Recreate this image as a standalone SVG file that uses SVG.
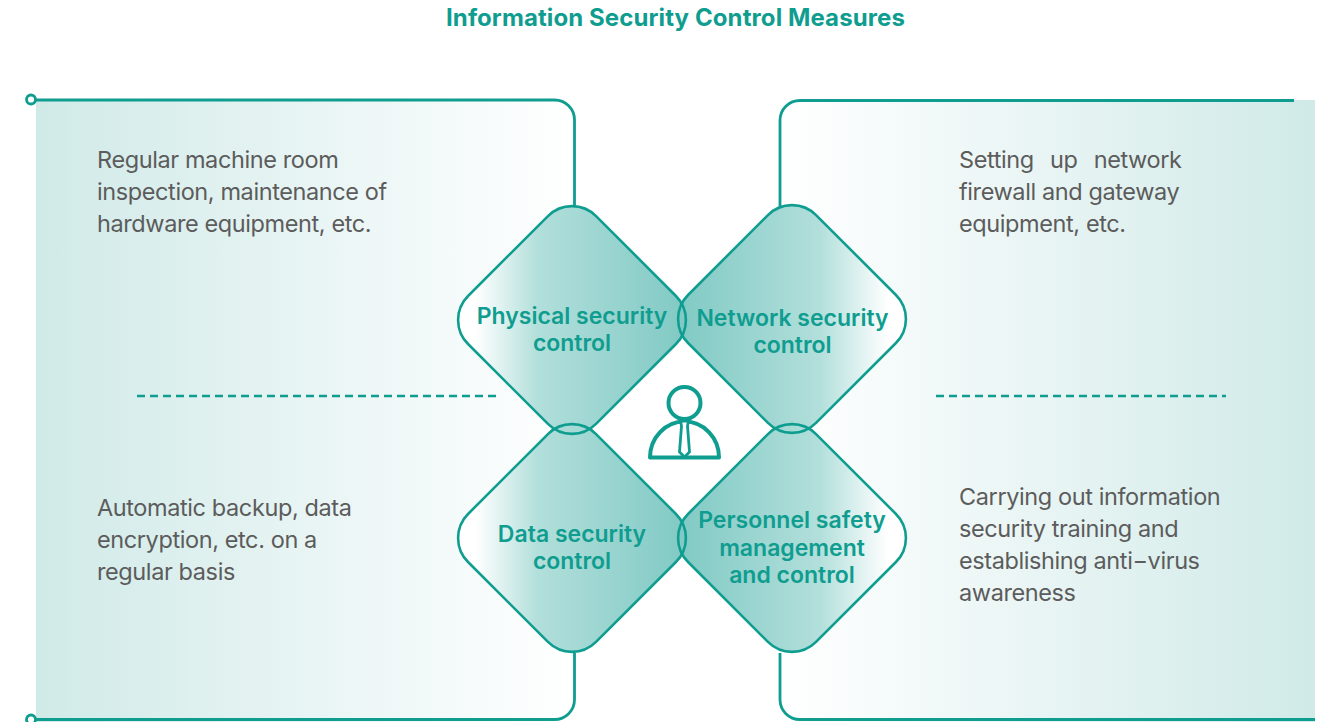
<svg xmlns="http://www.w3.org/2000/svg" width="1329" height="722" viewBox="0 0 1329 722">
<style>
.ln{fill:none;stroke:#0f9d90;stroke-width:2.800}
.dash{fill:none;stroke:#0f9d90;stroke-width:2.600;stroke-dasharray:8 5}
.body{font-family:"Inter","Liberation Sans",sans-serif;font-size:23.500px;letter-spacing:-0.400px;fill:#5c5c5c}
.title{font-family:"Inter","Liberation Sans",sans-serif;font-size:24px;font-weight:700;letter-spacing:0.100px;fill:#0f9d90}
.lab{font-family:"Inter","Liberation Sans",sans-serif;font-size:23px;font-weight:600;fill:#0f9d90;text-anchor:middle}
.o{fill:none;stroke:#0f9d90;stroke-width:2.600}
</style>
<defs>
<linearGradient id="pl" x1="0" x2="1" y1="0" y2="0"><stop offset="0" stop-color="#d0eae8"/><stop offset="1" stop-color="#ffffff"/></linearGradient>
<linearGradient id="pr" x1="0" x2="1" y1="0" y2="0"><stop offset="0" stop-color="#ffffff"/><stop offset="1" stop-color="#d0eae8"/></linearGradient>
<linearGradient id="dl" gradientUnits="userSpaceOnUse" x1="-115" y1="0" x2="115" y2="0" gradientTransform="rotate(-45)"><stop offset="0.08" stop-color="#ffffff"/><stop offset="0.35" stop-color="#b2dfdb"/><stop offset="1" stop-color="#80c9c4"/></linearGradient>
<linearGradient id="dr" gradientUnits="userSpaceOnUse" x1="-115" y1="0" x2="115" y2="0" gradientTransform="rotate(-45)"><stop offset="0" stop-color="#80c9c4"/><stop offset="0.62" stop-color="#b2dfdb"/><stop offset="0.92" stop-color="#ffffff"/></linearGradient>
<rect id="dm" x="-90.500" y="-90.500" width="181" height="181" rx="34" ry="34" transform="rotate(45)"/>
</defs>
<rect width="1329" height="722" fill="#ffffff"/>
<text class="title" x="446" y="26">Information Security Control Measures</text>
<g id="panels">
<rect x="36" y="100" width="539" height="622" fill="url(#pl)"/>
<rect x="780" y="100" width="535" height="622" fill="url(#pr)"/>
</g>
<g id="connectors">
<path class="ln" d="M36 100H554.500a20 20 0 0 1 20 20V206"/>
<path class="ln" d="M36 719.500H554.500a20 20 0 0 0 20-20V653"/>
<path class="ln" d="M1294 100.500H800a20 20 0 0 0-20 20V206"/>
<path class="ln" d="M1315 719.500H800a20 20 0 0 1-20-20V653"/>
<circle class="ln" cx="31" cy="99.500" r="4.500"/>
<circle class="ln" cx="31" cy="719.500" r="4.500"/>
<path class="dash" d="M137 396H496"/>
<path class="dash" d="M936 396H1226"/>
</g>
<g id="node-physical"><use href="#dm" transform="translate(572 320)" fill="url(#dl)"/></g>
<g id="node-network"><use href="#dm" transform="translate(792 319)" fill="url(#dr)"/></g>
<g id="node-data"><use href="#dm" transform="translate(572 538)" fill="url(#dl)"/></g>
<g id="node-personnel"><use href="#dm" transform="translate(792 538)" fill="url(#dr)"/></g>
<g id="diamond-outlines">
<use href="#dm" transform="translate(572 320)" class="o"/>
<use href="#dm" transform="translate(792 319)" class="o"/>
<use href="#dm" transform="translate(572 538)" class="o"/>
<use href="#dm" transform="translate(792 538)" class="o"/>
</g>
<g id="labels">
<text class="lab" x="572" y="324">Physical security</text><text class="lab" x="572" y="351">control</text>
<text class="lab" x="792.500" y="326">Network security</text><text class="lab" x="792.500" y="353">control</text>
<text class="lab" x="572" y="542">Data security</text><text class="lab" x="572" y="569">control</text>
<text class="lab" x="792" y="528">Personnel safety</text><text class="lab" x="792" y="556">management</text><text class="lab" x="792" y="583">and control</text>
</g>
<g id="icon-person" fill="none" stroke="#0f9d90" stroke-width="4">
<circle cx="684.500" cy="403" r="16"/>
<path d="M650 457.500a34.500 36 0 0 1 69 0Z" stroke-linejoin="round"/>
<path d="M680.500 421h8l-1 5 2 26-5 5-5-5 2-26z" fill="#fff" stroke-width="2.800"/>
</g>
<g id="texts">
<text class="body" x="97" y="168">Regular machine room</text>
<text class="body" x="97" y="200">inspection, maintenance of</text>
<text class="body" x="97" y="232">hardware equipment, etc.</text>
<text class="body" x="97" y="516">Automatic backup, data</text>
<text class="body" x="97" y="548">encryption, etc. on a</text>
<text class="body" x="97" y="580">regular basis</text>
<text class="body" x="959" y="168" word-spacing="10">Setting up network</text>
<text class="body" x="959" y="200">firewall and gateway</text>
<text class="body" x="959" y="232">equipment, etc.</text>
<text class="body" x="959" y="505">Carrying out information</text>
<text class="body" x="959" y="537">security training and</text>
<text class="body" x="959" y="569">establishing anti−virus</text>
<text class="body" x="959" y="601">awareness</text>
</g>
</svg>
